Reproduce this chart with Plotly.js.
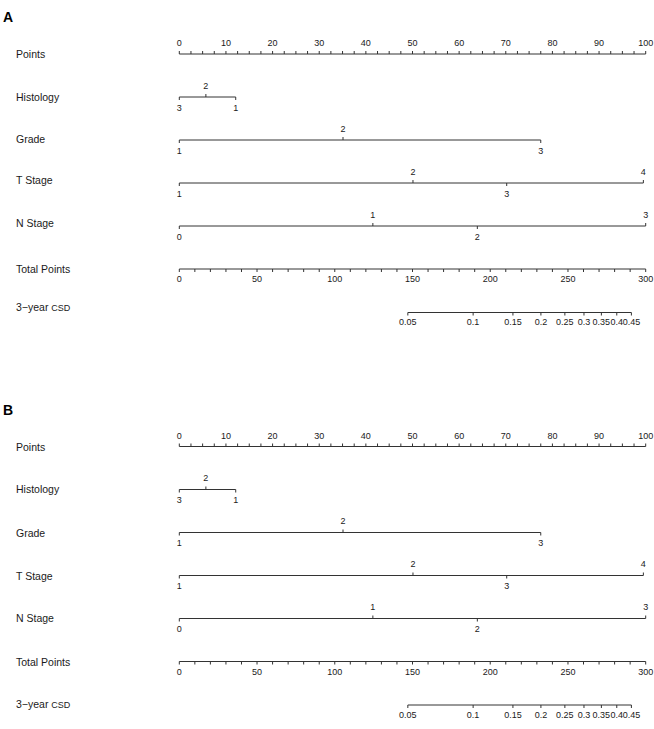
<!DOCTYPE html>
<html><head><meta charset="utf-8">
<script src="https://cdn.plot.ly/plotly-3.0.1.min.js"></script>
<style>html,body{margin:0;padding:0;background:#fff}#chart{width:654px;height:729px}</style>
</head><body><div id="chart"></div>
<script>
// ---- data ----
const rowLabels = ["Points", "Histology", "Grade", "T Stage", "N Stage", "Total Points", "3\u2212year <span style='font-size:9px'>CSD</span>"];
const pointsLabeled = [0,10,20,30,40,50,60,70,80,90,100];
const pointsMinorStep = 2.5;
const histologyLevels = ["3","2","1"];
const histologyPoints = [0, 5.7, 12.1];
const gradeLevels = ["1","2","3"];
const gradePoints = [0, 35.1, 77.5];
const tStageLevels = ["1","2","3","4"];
const tStagePoints = [0, 50.1, 70.2, 99.5];
const nStageLevels = ["0","1","2","3"];
const nStagePoints = [0, 41.5, 63.9, 100];
const totalLabeled = [0,50,100,150,200,250,300];
const totalMinorStep = 10;
const totalMax = 300;
const csdProb = [0.05,0.1,0.15,0.2,0.25,0.3,0.35,0.4,0.45];
const csdTotal = [147, 189, 214.6, 232.6, 248, 260.3, 271.5, 281.4, 290.8];
const panels = ["A","B"];

// ---- layout helpers ----
const X0PX = 179.3, PXPER = 4.664, W = 654, H = 729;
const xa = -X0PX / PXPER, xb = xa + W / PXPER;
const ROW_GAP = 43, PANEL_TOP = [54, 446.5];
const LABEL_DY = [[0,-0.5,-1,-3,-3.5,-0.5,-6],[0,-0.5,0,0,-0.5,0,-1]];
const TICK = 3, LBL = 10;
const lineX = [], lineY = [], txtX = [], txtY = [], txt = [];
function seg(x1,y1,x2,y2){ lineX.push(x1,x2,null); lineY.push(y1,y2,null); }
function lab(x,y,s){ txtX.push(x); txtY.push(y); txt.push(s); }
const tp2p = t => t * 100 / totalMax;

const annotations = [];
panels.forEach((P, pi) => {
  const top = PANEL_TOP[pi];
  const rowY = i => top + i * ROW_GAP + (i >= 6 ? 0.5 : 0);
  // panel letter
  annotations.push({xref:'paper', yref:'y', x:1/W, y: top - 37, xanchor:'left', yanchor:'middle',
    text:'<b>'+P+'</b>', showarrow:false, font:{size:14, color:'#000', family:'Liberation Sans, Arial, sans-serif'}});
  rowLabels.forEach((r,i) => annotations.push({xref:'paper', yref:'y', x:14/W, y: rowY(i) + LABEL_DY[pi][i],
    xanchor:'left', yanchor:'middle', text:r, showarrow:false,
    font:{size:10.5, color:'#1a1a1a', family:'Liberation Sans, Arial, sans-serif'}}));
  // Points axis (ticks up, labels above)
  let y = rowY(0);
  seg(0, y, 100, y);
  for (let v = 0; v <= 100 + 1e-9; v += pointsMinorStep) seg(v, y, v, y - TICK);
  pointsLabeled.forEach(v => lab(v, y - LBL, String(v)));
  // categorical rows
  [[histologyLevels, histologyPoints],[gradeLevels, gradePoints],[tStageLevels, tStagePoints],[nStageLevels, nStagePoints]]
    .forEach(([lv, pts], k) => {
      const yy = rowY(k + 1);
      const order = pts.map((p,i)=>i).sort((a,b)=>pts[a]-pts[b]);
      seg(Math.min(...pts), yy, Math.max(...pts), yy);
      order.forEach((idx, j) => {
        const up = j % 2 === 1;
        seg(pts[idx], yy, pts[idx], yy + (up ? -TICK : TICK));
        lab(pts[idx], yy + (up ? -LBL - 0.5 : LBL + 1.5), lv[idx]);
      });
    });
  // Total points (ticks down, labels below)
  y = rowY(5);
  seg(0, y, tp2p(totalMax), y);
  for (let t = 0; t <= totalMax + 1e-9; t += totalMinorStep) seg(tp2p(t), y, tp2p(t), y + TICK);
  totalLabeled.forEach(t => lab(tp2p(t), y + LBL + 1, String(t)));
  // CSD
  y = rowY(6);
  seg(tp2p(csdTotal[0]), y, tp2p(csdTotal[csdTotal.length-1]), y);
  csdTotal.forEach((t,i) => { seg(tp2p(t), y, tp2p(t), y + TICK); lab(tp2p(t), y + LBL + 0.5, String(csdProb[i])); });
});

const data = [
  {type:'scatter', mode:'lines', x:lineX, y:lineY, line:{color:'#333', width:1}, hoverinfo:'skip', showlegend:false, connectgaps:false},
  {type:'scatter', mode:'text', x:txtX, y:txtY, text:txt, textposition:'middle center',
   textfont:{size:9, color:'#1a1a1a', family:'Liberation Sans, Arial, sans-serif'}, hoverinfo:'skip', showlegend:false}
];
const layout = {
  width: W, height: H, margin:{l:0,r:0,t:0,b:0}, paper_bgcolor:'#fff', plot_bgcolor:'#fff',
  xaxis:{range:[xa, xb], visible:false, fixedrange:true},
  yaxis:{range:[H, 0], visible:false, fixedrange:true},
  annotations: annotations, showlegend:false
};
Plotly.newPlot('chart', data, layout, {staticPlot:true, displayModeBar:false});
</script></body></html>
